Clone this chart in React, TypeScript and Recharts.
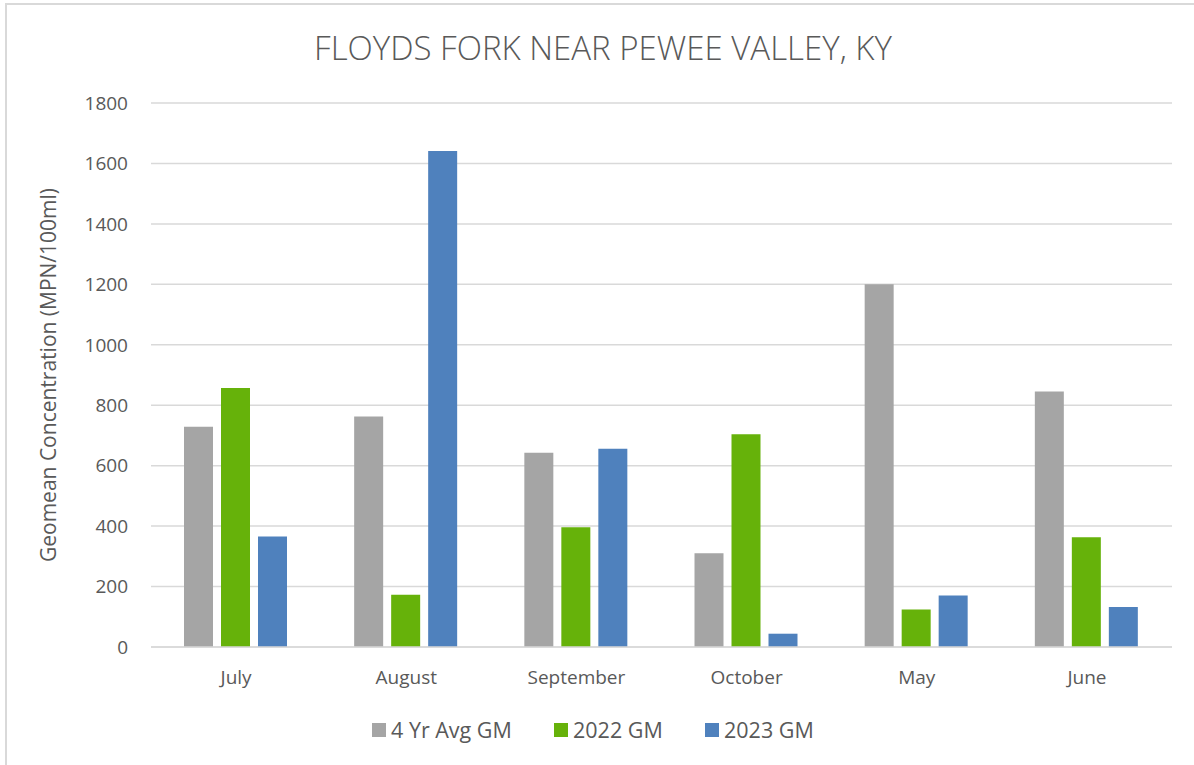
import { BarChart, Bar, XAxis, YAxis, CartesianGrid } from "recharts";

const months = ["July", "August", "September", "October", "May", "June"];
const avg4yr = [729, 763, 643, 310, 1200, 845];
const gm2022 = [857, 173, 396, 704, 124, 363];
const gm2023 = [366, 1641, 656, 44, 170, 132];
const yTicks = [0, 200, 400, 600, 800, 1000, 1200, 1400, 1600, 1800];

const series = [
  { key: "avg", name: "4 Yr Avg GM", color: "#A5A5A5" },
  { key: "y2022", name: "2022 GM", color: "#66B20A" },
  { key: "y2023", name: "2023 GM", color: "#4F81BD" },
];

const data = months.map((m, i) => ({
  month: m,
  avg: avg4yr[i],
  y2022: gm2022[i],
  y2023: gm2023[i],
}));

const font = "'Open Sans', sans-serif";
const textColor = "#595959";
// legend swatch x positions, as in the original
const legendLeft = [372, 554, 705];

export default function App() {
  return (
    <div
      style={{
        position: "absolute",
        left: 0,
        top: 0,
        width: 1194,
        height: 765,
        background: "#fff",
        fontFamily: font,
        overflow: "hidden",
      }}
    >
      {/* outer frame, only top and left are visible in the crop */}
      <div
        style={{
          position: "absolute",
          left: 5,
          top: 3,
          width: 1300,
          height: 900,
          borderTop: "2px solid #d9d9d9",
          borderLeft: "2px solid #d9d9d9",
        }}
      />

      <div
        style={{
          position: "absolute",
          left: 0,
          width: 1206,
          top: 25,
          textAlign: "center",
          fontSize: 33,
          fontWeight: 300,
          color: textColor,
        }}
      >
        FLOYDS FORK NEAR PEWEE VALLEY, KY
      </div>

      <div
        style={{
          position: "absolute",
          left: 48,
          top: 375,
          transform: "translate(-50%, -50%) rotate(-90deg)",
          whiteSpace: "nowrap",
          fontSize: 21,
          color: textColor,
        }}
      >
        Geomean Concentration (MPN/100ml)
      </div>

      <div style={{ position: "absolute", left: 0, top: 0 }}>
        <BarChart
          width={1194}
          height={765}
          data={data}
          margin={{ top: 103, right: 22, left: 0, bottom: 88 }}
          barGap={8}
          barCategoryGap={33}
        >
          <CartesianGrid vertical={false} stroke="#d9d9d9" strokeWidth={1.5} />
          <XAxis
            dataKey="month"
            axisLine={{ stroke: "#d9d9d9", strokeWidth: 1.5 }}
            tickLine={false}
            tickSize={8}
            tickMargin={16}
            tick={{ fill: textColor, fontSize: 19, fontFamily: font }}
            height={30}
          />
          <YAxis
            width={151}
            domain={[0, 1800]}
            ticks={yTicks}
            axisLine={false}
            tickLine={false}
            tickSize={8}
            tickMargin={15}
            tick={{ fill: textColor, fontSize: 19, fontFamily: font }}
          />
          {series.map((s) => (
            <Bar
              key={s.key}
              dataKey={s.key}
              name={s.name}
              fill={s.color}
              isAnimationActive={false}
            />
          ))}
        </BarChart>
      </div>

      {series.map((s, i) => (
        <div
          key={s.key}
          style={{
            position: "absolute",
            left: legendLeft[i],
            top: 715,
            display: "flex",
            alignItems: "center",
            fontSize: 21.5,
            color: textColor,
            whiteSpace: "nowrap",
          }}
        >
          <div
            style={{
              width: 14,
              height: 14,
              background: s.color,
              marginRight: 5,
            }}
          />
          <span>{s.name}</span>
        </div>
      ))}
    </div>
  );
}
